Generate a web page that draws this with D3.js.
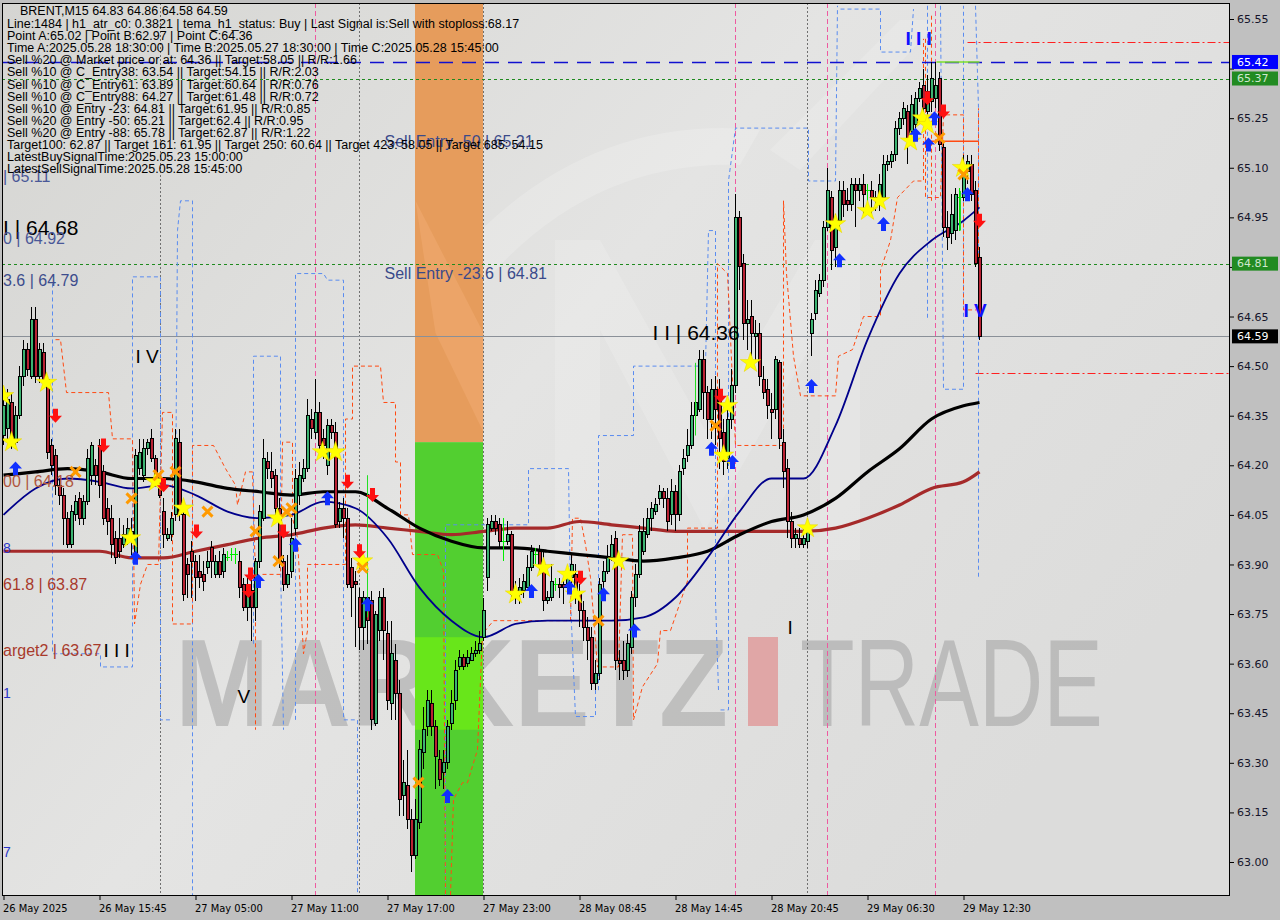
<!DOCTYPE html>
<html><head><meta charset="utf-8">
<script src="https://cdn.jsdelivr.net/npm/d3@7"></script>
<style>html,body{margin:0;padding:0;background:#c0c0c0;}svg{display:block;}</style>
</head><body><svg id="c" width="1280" height="920"></svg>
<script>
// ---------------- DATA ----------------
const headerLines = [
 "Line:1484 | h1_atr_c0: 0.3821 | tema_h1_status: Buy | Last Signal is:Sell with stoploss:68.17",
 "Point A:65.02 | Point B:62.97 | Point C:64.36",
 "Time A:2025.05.28 18:30:00 | Time B:2025.05.27 18:30:00 | Time C:2025.05.28 15:45:00",
 "Sell %20 @ Market price or at: 64.36 || Target:58.05 || R/R:1.66",
 "Sell %10 @ C_Entry38: 63.54 || Target:54.15 || R/R:2.03",
 "Sell %10 @ C_Entry61: 63.89 || Target:60.64 || R/R:0.76",
 "Sell %10 @ C_Entry88: 64.27 || Target:61.48 || R/R:0.72",
 "Sell %10 @ Entry -23: 64.81 || Target:61.95 || R/R:0.85",
 "Sell %20 @ Entry -50: 65.21 || Target:62.4 || R/R:0.95",
 "Sell %20 @ Entry -88: 65.78 || Target:62.87 || R/R:1.22",
 "Target100: 62.87 || Target 161: 61.95 || Target 250: 60.64 || Target 423: 58.05 || Target 685: 54.15",
 "LatestBuySignalTime:2025.05.23 15:00:00",
 "LatestSellSignalTime:2025.05.28 15:45:00"
];
const titleLine = "BRENT,M15  64.83 64.86 64.58 64.59";

const timeTickIdx = [0,24,48,72,96,120,144,168,192,216,240];
const timeTickLabels = ["26 May 2025","26 May 15:45","27 May 05:00","27 May 11:00","27 May 17:00","27 May 23:00","28 May 08:45","28 May 14:45","28 May 20:45","29 May 06:30","29 May 12:30"];
const priceTicks = [63.00,63.15,63.30,63.45,63.60,63.75,63.90,64.05,64.20,64.35,64.50,64.65,64.80,64.95,65.10,65.25,65.40,65.55];

// [open, high, low, close] per M15 bar
const ohlc = [
[64.29,64.42,64.26,64.38],[64.31,64.43,64.28,64.40],[64.39,64.42,64.25,64.27],[64.27,64.38,64.25,64.35],[64.35,64.50,64.34,64.47],
[64.47,64.58,64.44,64.55],[64.55,64.57,64.47,64.49],[64.47,64.68,64.46,64.64],[64.64,64.68,64.45,64.47],[64.47,64.57,64.45,64.55],
[64.54,64.57,64.44,64.46],[64.46,64.47,64.22,64.24],[64.26,64.28,64.17,64.20],[64.23,64.25,64.11,64.14],[64.14,64.16,64.08,64.11],
[64.11,64.13,63.96,64.04],[64.04,64.06,63.95,63.96],[63.96,64.08,63.95,64.06],[64.05,64.11,64.03,64.09],[64.10,64.12,64.02,64.04],
[64.04,64.11,64.02,64.09],[64.09,64.25,64.08,64.22],[64.17,64.27,64.14,64.26],[64.20,64.22,64.14,64.17],[64.26,64.28,64.10,64.14],
[64.18,64.20,64.02,64.04],[64.07,64.10,63.99,64.03],[64.04,64.08,63.92,63.96],[63.98,64.00,63.90,63.92],[63.98,64.04,63.92,63.94],
[63.96,64.02,63.95,63.99],[63.98,64.04,63.96,64.01],[63.97,64.04,63.93,64.00],[63.92,64.25,63.92,64.23],[64.19,64.28,64.17,64.24],
[64.17,64.28,64.15,64.25],[64.25,64.28,64.23,64.27],[64.28,64.31,64.21,64.22],[64.22,64.23,64.15,64.17],[64.15,64.17,64.10,64.11],
[64.06,64.10,63.95,63.99],[63.98,64.01,63.97,63.99],[63.99,64.06,63.97,64.04],[64.05,64.31,64.03,64.28],[64.27,64.31,64.03,64.05],
[64.05,64.07,63.79,63.81],[63.90,63.92,63.80,63.87],[63.94,63.97,63.80,63.91],[63.91,63.93,63.79,63.86],[63.88,63.93,63.83,63.86],
[63.87,63.91,63.82,63.85],[63.89,63.94,63.87,63.91],[63.95,63.97,63.86,63.91],[63.87,63.93,63.86,63.91],[63.91,63.94,63.86,63.87],
[63.88,63.95,63.86,63.93],[63.92,63.94,63.91,63.92],[63.93,63.95,63.91,63.93],[63.93,63.95,63.90,63.93],[63.91,63.94,63.80,63.83],
[63.84,63.86,63.76,63.77],[63.77,63.86,63.73,63.83],[63.82,63.87,63.67,63.77],[63.77,63.92,63.73,63.91],[63.91,64.08,63.89,64.06],
[64.04,64.28,64.03,64.22],[64.21,64.24,64.16,64.19],[64.18,64.24,64.13,64.16],[64.17,64.19,64.04,64.07],[64.07,64.10,63.89,63.91],
[63.91,63.93,63.82,63.84],[63.84,63.93,63.83,63.87],[63.88,64.04,63.86,63.98],[64.01,64.19,63.99,64.16],[64.11,64.21,64.08,64.17],
[64.16,64.22,64.15,64.19],[64.19,64.40,64.18,64.35],[64.34,64.37,64.28,64.31],[64.30,64.46,64.28,64.36],[64.36,64.39,64.25,64.26],
[64.28,64.31,64.22,64.26],[64.20,64.34,64.17,64.32],[64.32,64.34,64.28,64.30],[64.30,64.33,64.01,64.02],[64.03,64.09,64.01,64.07],
[64.07,64.10,63.98,64.04],[64.04,64.07,63.83,63.84],[63.89,63.92,63.74,63.83],[63.85,63.88,63.65,63.84],[63.80,63.83,63.64,63.71],
[63.71,63.82,63.64,63.80],[63.80,63.82,63.66,63.73],[63.79,63.82,63.40,63.43],[63.42,63.76,63.41,63.75],[63.70,63.82,63.67,63.80],
[63.80,63.83,63.61,63.70],[63.69,63.73,63.46,63.49],[63.48,63.73,63.43,63.63],[63.61,63.66,63.43,63.51],[63.51,63.55,63.14,63.19],
[63.20,63.31,63.14,63.24],[63.23,63.34,63.10,63.13],[63.13,63.16,62.97,63.02],[63.02,63.19,63.01,63.13],[63.12,63.37,63.10,63.34],
[63.33,63.47,63.28,63.40],[63.41,63.52,63.38,63.49],[63.48,63.52,63.38,63.41],[63.41,63.43,63.22,63.32],[63.31,63.34,63.23,63.25],
[63.27,63.34,63.22,63.30],[63.30,63.43,63.28,63.41],[63.42,63.52,63.40,63.48],[63.49,63.61,63.46,63.58],[63.59,63.64,63.58,63.62],
[63.62,63.63,63.58,63.59],[63.60,63.64,63.59,63.62],[63.61,63.65,63.61,63.63],[63.63,63.67,63.62,63.64],[63.64,63.70,63.63,63.66],
[63.68,63.80,63.67,63.76],[63.86,64.04,63.82,64.02],[64.01,64.05,64.00,64.03],[64.03,64.05,63.99,64.01],[64.02,64.04,63.95,63.97],
[63.97,64.04,63.91,63.97],[63.97,64.03,63.96,63.99],[63.99,64.00,63.79,63.81],[63.82,63.85,63.78,63.80],[63.81,63.86,63.78,63.83],
[63.82,63.87,63.80,63.85],[63.83,63.93,63.83,63.89],[63.89,63.96,63.88,63.94],[63.93,63.95,63.90,63.93],[63.94,63.96,63.87,63.89],
[63.90,63.94,63.76,63.79],[63.79,63.82,63.78,63.80],[63.80,63.90,63.79,63.85],[63.84,63.86,63.82,63.84],[63.84,63.86,63.80,63.83],
[63.84,63.86,63.78,63.83],[63.83,63.89,63.82,63.87],[63.86,63.93,63.84,63.90],[63.87,63.90,63.78,63.81],[63.81,63.84,63.71,63.76],
[63.76,63.79,63.67,63.71],[63.71,63.74,63.61,63.67],[63.68,63.71,63.52,63.54],[63.54,63.61,63.52,63.57],[63.57,63.86,63.55,63.84],
[63.85,63.91,63.82,63.88],[63.88,63.96,63.87,63.92],[63.92,63.99,63.91,63.96],[63.98,64.00,63.58,63.61],[63.61,63.64,63.55,63.60],
[63.61,63.67,63.55,63.58],[63.58,63.69,63.56,63.66],[63.65,63.82,63.63,63.80],[63.80,63.90,63.77,63.87],[63.87,64.02,63.86,64.00],
[63.94,64.04,63.93,64.00],[63.99,64.07,63.98,64.04],[64.04,64.09,64.00,64.07],[64.06,64.10,64.05,64.08],[64.10,64.14,64.08,64.12],
[64.12,64.13,64.07,64.10],[64.10,64.13,64.00,64.03],[64.05,64.16,64.02,64.12],[64.12,64.14,64.00,64.05],[64.05,64.20,64.03,64.18],
[64.19,64.25,64.17,64.22],[64.23,64.31,64.21,64.26],[64.26,64.39,64.25,64.35],[64.35,64.43,64.31,64.39],[64.37,64.55,64.36,64.52],
[64.52,64.55,64.34,64.42],[64.42,64.44,64.28,64.34],[64.34,64.46,64.28,64.43],[64.43,64.47,64.26,64.37],[64.40,64.46,64.19,64.28],
[64.30,64.34,64.17,64.21],[64.22,64.40,64.19,64.34],[64.34,64.49,64.31,64.44],[64.44,65.02,64.42,64.95],[64.95,64.97,64.73,64.80],
[64.81,64.84,64.58,64.63],[64.63,64.70,64.55,64.64],[64.65,64.70,64.53,64.60],[64.59,64.64,64.52,64.60],[64.60,64.63,64.44,64.47],
[64.46,64.50,64.40,64.42],[64.43,64.46,64.34,64.38],[64.37,64.42,64.28,64.36],[64.37,64.53,64.34,64.52],[64.51,64.52,64.25,64.28],
[64.27,64.31,64.13,64.18],[64.19,64.22,63.98,64.03],[64.03,64.06,63.95,63.98],[63.98,64.01,63.95,63.99],[63.98,64.01,63.95,63.96],
[63.96,64.02,63.95,63.98],[63.97,64.03,63.95,64.00],[64.60,64.66,64.53,64.64],[64.66,64.76,64.64,64.73],[64.72,64.78,64.71,64.76],
[64.76,64.94,64.74,64.92],[64.92,65.10,64.91,65.03],[65.01,65.03,64.79,64.85],[64.86,64.96,64.80,64.94],[64.94,65.06,64.91,65.03],
[65.03,65.06,64.95,64.99],[65.00,65.04,64.97,64.99],[64.99,65.07,64.97,65.05],[65.05,65.07,64.92,65.03],[65.03,65.07,65.00,65.05],
[65.05,65.08,64.96,65.02],[65.03,65.05,65.00,65.03],[65.03,65.06,64.96,65.01],[65.01,65.03,64.97,65.00],[65.00,65.08,64.97,65.05],
[65.01,65.14,65.00,65.11],[65.11,65.14,65.09,65.12],[65.12,65.15,65.10,65.14],[65.14,65.24,65.12,65.22],[65.22,65.27,65.20,65.25],
[65.25,65.30,65.23,65.28],[65.27,65.29,65.11,65.19],[65.21,65.32,65.19,65.29],[65.23,65.33,65.21,65.31],[65.31,65.36,65.30,65.34],
[65.35,65.40,65.23,65.28],[65.27,65.38,65.23,65.33],[65.30,65.42,65.27,65.37],[65.31,65.42,65.28,65.35],[65.37,65.39,65.15,65.17],
[65.16,65.18,64.89,64.92],[64.92,64.97,64.85,64.89],[64.90,65.02,64.87,64.96],[64.91,65.04,64.88,65.02],[65.01,65.04,64.91,65.01],
[65.01,65.14,65.00,65.10],[65.09,65.14,65.05,65.12],[65.11,65.14,65.00,65.02],[65.03,65.06,64.80,64.81],[64.83,64.86,64.58,64.59]
];

// moving averages sampled every 8 bars (+ last bar)
const maIdx = [0,8,16,24,32,40,48,56,64,72,80,88,96,104,112,120,128,136,144,152,160,168,176,184,192,200,208,216,224,232,240,244];
const maFast = [64.05,64.13,64.16,64.15,64.13,64.14,64.11,64.06,64.04,64.05,64.09,64.07,63.98,63.83,63.73,63.68,63.72,63.73,63.73,63.73,63.74,63.80,63.92,64.06,64.16,64.16,64.32,64.58,64.78,64.88,64.94,64.98];
const maSlow = [64.17,64.18,64.19,64.18,64.16,64.16,64.15,64.13,64.12,64.11,64.12,64.12,64.07,64.01,63.97,63.95,63.95,63.94,63.93,63.92,63.91,63.92,63.94,63.99,64.03,64.05,64.10,64.18,64.25,64.34,64.38,64.39];
const maLong = [63.94,63.94,63.94,63.94,63.92,63.92,63.94,63.96,63.98,63.99,64.01,64.02,64.01,64.00,63.99,64.00,64.01,64.01,64.03,64.02,64.01,64.00,64.00,64.00,64.00,64.00,64.01,64.04,64.08,64.13,64.15,64.18];

// step channels [barIndex, price]
const blueSteps = [
 [[12.25,64.75],[12.25,63.63],[24.25,63.63],[24.25,63.59],[32.25,63.59],[32.25,64.77],[39.25,64.77],[39.25,63.43],[42.25,63.43]],
 [[43,64.04],[43.5,64.91],[44.25,65.00],[47.25,65.00],[47.25,62.90]],
 [[62.5,63.66],[62.5,64.53],[69.25,64.53],[69.25,63.91],[70,63.40]],
 [[73,63.43],[73,64.78],[80,64.78],[81,64.76],[85,64.76],[85,63.43],[88.5,63.43],[88.5,62.90]],
 [[110.5,62.90],[110.5,64.02],[131.25,64.02],[131.25,64.19],[141.25,64.19],[141.75,63.79],[143,63.44],[148,63.44],[148,63.55]],
 [[148.75,63.52],[148.75,64.29],[157.5,64.29],[157.5,64.50],[175.5,64.50],[176.25,64.91],[178,64.91],[178,63.79],[178.75,63.52]],
 [[179.25,63.46],[181.25,63.46],[181.25,65.06],[183,65.22],[201.25,65.22],[201.25,65.06],[208,65.06],[208.5,65.59]],
 [[209.25,65.58],[219.25,65.58],[219.25,65.45],[226.75,65.45],[227.5,65.58]],
 [[231,65.59],[231,64.64]],
 [[234.25,65.59],[235,64.43],[240,64.43],[240,65.59]],
 [[243,65.59],[243.75,65.28],[243.75,63.86]]
];
const orangeSteps = [
 [[13,64.58],[14.25,64.58],[15.75,64.42],[26.25,64.42],[27.25,64.28],[32.25,64.28],[32.75,63.72],[34.25,63.84],[36,63.90],[38.75,63.90],[39.75,64.36],[42.25,64.36],[42.25,63.72],[47.25,63.72],[47.25,64.26],[52.5,64.26],[55.5,64.19],[58,64.14],[58.5,64.08],[60.5,64.18],[62.25,64.18],[63,63.86],[63,63.40]],
 [[64.75,63.87],[69.25,63.87],[69.75,64.27],[72.25,64.27],[72.25,64.04],[73.5,63.98],[75,63.63],[76,63.70],[76,63.90],[85.5,63.90],[85.5,64.34],[87.25,64.34],[87.25,64.50],[94.25,64.50],[95,64.39],[98,64.39],[98,64.21],[99.25,64.21],[99.25,64.05],[101.25,64.05],[102.25,63.93],[108.5,63.93],[110,63.88],[110.5,62.90]],
 [[111.75,62.90],[112.5,63.19],[114.75,63.24],[116,63.24],[118.5,63.34],[119.75,63.69],[122.5,63.73],[141.75,63.73],[142.25,64.04],[144.25,64.04],[145.5,63.96],[146.75,63.86],[148.5,63.59],[153.75,63.59],[154.75,63.99],[157.25,63.99],[157.5,63.43],[159.75,63.53],[163.5,63.60],[164.25,63.70],[166.75,63.70],[171,63.85],[171,64.01],[178.5,64.01],[178.5,64.81],[181,64.78],[183,64.26],[195,64.26],[195,65.00],[195.75,64.78],[197.5,64.53],[199.25,64.41],[208,64.41],[208.75,64.53],[212.25,64.55],[215,64.65],[219.25,64.65],[219.25,64.79],[221.75,64.88],[223.5,65.01],[227.5,65.06],[230,65.06],[230,65.49]],
 [[230.5,65.49],[230.5,65.01],[234.25,65.01],[235,65.26],[240,65.26],[240,64.67],[243.75,64.67],[243.75,65.28]],
 [[232,65.56],[232,65.00]]
];

// signal markers [barIndex, price]
const stars = [[0,64.41],[2,64.27],[10.75,64.45],[31.75,63.98],[38,64.15],[45,64.07],[68.5,64.04],[79.75,64.24],[83,64.24],[89.75,63.91],[128,63.81],[135,63.89],[141,63.87],[143,63.81],[153.75,63.91],[180,64.23],[181,64.38],[186.75,64.51],[201,64.01],[208,64.93],[216,64.97],[219,65.00],[226.75,65.18],[229.75,65.25],[231,65.23],[239.75,65.10]];
const crosses = [[18,64.18],[32,64.10],[38.75,64.17],[43,64.18],[51,64.06],[63,64.00],[68.75,63.91],[70.75,64.06],[72,64.07],[89.75,63.89],[103.75,63.24],[148.75,63.73],[178,64.32],[234,65.19],[240,65.08]];
const sellArrows = [[13,64.35],[25,64.26],[40,64.14],[48.25,64.00],[61.75,63.87],[61.25,63.82],[70,64.00],[86,64.15],[92.25,64.11],[89,63.94],[144.25,63.86],[179.25,64.41],[231,65.31],[235,65.27],[244,64.94]];
const buyArrows = [[3,64.19],[33,63.92],[63.75,63.85],[73,63.96],[81,64.10],[91,63.78],[111,63.20],[132,63.82],[141.5,63.83],[150,63.81],[157.75,63.70],[177,64.25],[182.25,64.21],[202,64.44],[209,64.82],[220,64.93],[228,65.20],[231.25,65.17],[232.75,65.25],[241,65.02]];
const signalLines = [[91,64.17,63.74],[173,64.51,64.29],[239.25,65.03,64.91]];

// zone
const zoneFrom = 103, zoneTo = 120, zoneSplit = 64.27;

// levels
const levelBlue = 65.42, levelGreen1 = 65.37, levelGreen2 = 64.81, levelLast = 64.59;
const redLevelsRight = [[241,65.48],[243,64.48]];
const priceBoxes = [65.42,65.37,64.81,64.59];
const pinkVLines = [78,183,206,233];
const grayVLines = [39.25,89,120,201];

// chart labels [barIndex, price, text]
const fibLabels = [
 [0,64.92,"I | 64.68","#000000",21],
 [0,64.885,"0 | 64.92","#4a5898",16],
 [0,64.76,"3.6 | 64.79","#3d4d8d",16],
 [0,65.075,"| 65.11","#4a5898",16],
 [0,64.15,"00 | 64.18","#b0563e",16],
 [0,63.95,"8","#2a36c8",14],
 [0,63.84,"61.8 | 63.87","#a83a2c",16],
 [0,63.64,"arget2 | 63.67","#a83a2c",16],
 [0,63.51,"1","#2a36c8",14],
 [0,63.03,"7","#2a36c8",14],
 [95.25,65.18,"Sell Entry -50 | 65.21","#3a4a8a",16],
 [95.25,64.78,"Sell Entry -23.6 | 64.81","#3a4a8a",16],
 [162.25,64.60,"I I | 64.36","#000000",21]
];
const waveLabels = [
 [25,63.64,"I I I","#000000"],
 [33,64.53,"I V","#000000"],
 [58.5,63.50,"V","#000000"],
 [196,63.71,"I","#000000"],
 [225.5,65.49,"I I I","#1010ff"],
 [240,64.67,"I V","#1010ff"]
];

// ---------------- DRAW ----------------
const W=1280,H=920,L=2,T=3,R=1230,B=896;
const svg = d3.select("#c");
const SANS = '"Liberation Sans", Arial, sans-serif';
const x = d3.scaleLinear().domain([0,244]).range([3.5,979.5]);
const y = d3.scaleLinear().domain([63.00,65.55]).range([862,19]);

const defs = svg.append("defs");
defs.append("clipPath").attr("id","clip").append("rect").attr("x",L).attr("y",T).attr("width",R-L).attr("height",B-T);
const bg = defs.append("linearGradient").attr("id","bg").attr("x1","0").attr("y1","0").attr("x2","1").attr("y2","0.6");
bg.append("stop").attr("offset","0").attr("stop-color","#d5d5d2");
bg.append("stop").attr("offset","0.5").attr("stop-color","#e4e4e3");
bg.append("stop").attr("offset","1").attr("stop-color","#dcdcdb");

svg.append("rect").attr("width",W).attr("height",H).attr("fill","#c0c0c0");
svg.append("rect").attr("x",L).attr("y",T).attr("width",R-L).attr("height",B-T).attr("fill","url(#bg)");

const g = svg.append("g").attr("clip-path","url(#clip)");

// faint logo shapes in the background
g.append("path").attr("d","M555,240 L600,240 L705,430 L815,240 L860,240 L860,560 L820,560 L820,330 L705,530 L600,330 L600,560 L555,560 Z")
 .attr("fill","#ffffff").attr("opacity",0.16);
g.append("path").attr("d","M420,300 Q560,110 760,130 L740,165 Q580,160 470,300 Z").attr("fill","#ffffff").attr("opacity",0.18);
g.append("path").attr("d","M770,150 L900,20 L940,20 L800,170 Z").attr("fill","#ffffff").attr("opacity",0.15);

// watermark
g.append("text").attr("x",175).attr("y",726).attr("font-family",SANS).attr("font-weight","bold").attr("font-size",124)
 .attr("textLength",553).attr("lengthAdjust","spacingAndGlyphs").attr("fill","#b4b4b4").attr("opacity",0.75).text("MARKETZ");
g.append("rect").attr("x",748).attr("y",637).attr("width",30).attr("height",89).attr("fill","#e0a6a6");
g.append("text").attr("x",800).attr("y",726).attr("font-family",SANS).attr("font-size",124)
 .attr("textLength",303).attr("lengthAdjust","spacingAndGlyphs").attr("fill","#b4b4b4").attr("opacity",0.8).text("TRADE");

// zone
g.append("rect").attr("x",x(zoneFrom)-0.5).attr("y",T).attr("width",x(zoneTo)-x(zoneFrom)).attr("height",y(zoneSplit)-T).attr("fill","#e69c5c");
g.append("rect").attr("x",x(zoneFrom)-0.5).attr("y",y(zoneSplit)).attr("width",x(zoneTo)-x(zoneFrom)).attr("height",B-y(zoneSplit)).attr("fill","#52cf30");
g.append("rect").attr("x",x(zoneFrom)-0.5).attr("y",y(63.68)).attr("width",x(zoneTo)-x(zoneFrom)).attr("height",y(63.40)-y(63.68)).attr("fill","#6ae818").attr("opacity",0.9);
g.append("path").attr("d",`M${x(zoneFrom)},${y(65.0)} L${x(zoneTo)},${y(64.6)} L${x(zoneTo)},${y(64.3)} L${x(zoneFrom)+20},${y(64.6)} Z`).attr("fill","#f0aa70").attr("opacity",0.6);

// vertical separators
g.selectAll("line.vg").data(grayVLines).join("line").attr("x1",d=>x(d)).attr("x2",d=>x(d)).attr("y1",T).attr("y2",B)
 .attr("stroke","#707070").attr("stroke-width",1).attr("stroke-dasharray","2,2");
g.selectAll("line.vp").data(pinkVLines).join("line").attr("x1",d=>x(d)).attr("x2",d=>x(d)).attr("y1",T).attr("y2",B)
 .attr("stroke","#ee5aa0").attr("stroke-width",1).attr("stroke-dasharray","5,3");

// horizontal levels
const hline = (p,color,dash,w)=>g.append("line").attr("x1",L).attr("x2",R).attr("y1",Math.round(y(p))+0.5).attr("y2",Math.round(y(p))+0.5)
 .attr("stroke",color).attr("stroke-width",w||1).attr("stroke-dasharray",dash);
hline(levelGreen1,"#1f8a1f","3,3");
hline(levelGreen2,"#1f8a1f","3,3");
hline(levelLast,"#8a9098",null);
redLevelsRight.forEach(d=>{
  g.append("line").attr("x1",x(d[0])).attr("x2",R).attr("y1",Math.round(y(d[1]))+0.5).attr("y2",Math.round(y(d[1]))+0.5)
   .attr("stroke","#ff2020").attr("stroke-dasharray","8,3,2,3");
});

// step channels
const line = d3.line().x(d=>x(d[0])).y(d=>y(d[1]));
g.selectAll("path.bs").data(blueSteps).join("path").attr("d",line).attr("fill","none")
 .attr("stroke","#5a8cf0").attr("stroke-width",1).attr("stroke-dasharray","4,3");
g.selectAll("path.os").data(orangeSteps).join("path").attr("d",line).attr("fill","none")
 .attr("stroke","#ff4a12").attr("stroke-width",1).attr("stroke-dasharray","4,3");

// blue dashed level (drawn over channels)
hline(levelBlue,"#1010d0","14,9",1.3);
g.append("line").attr("x1",x(233.25)).attr("x2",x(244)).attr("y1",y(65.42)).attr("y2",y(65.42)).attr("stroke","#7ee02a").attr("stroke-width",1.5);
g.append("line").attr("x1",x(230.5)).attr("x2",x(243.75)).attr("y1",y(65.18)).attr("y2",y(65.18)).attr("stroke","#ff4a12").attr("stroke-width",1.5);

// moving averages
const maLine = arr => d3.line().curve(d3.curveMonotoneX).x((d,i)=>x(maIdx[i])).y(d=>y(d))(arr);
g.append("path").attr("d",maLine(maLong)).attr("fill","none").attr("stroke","#a52a2a").attr("stroke-width",3.2);
g.append("path").attr("d",maLine(maSlow)).attr("fill","none").attr("stroke","#000000").attr("stroke-width",3.2);
g.append("path").attr("d",maLine(maFast)).attr("fill","none").attr("stroke","#00008b").attr("stroke-width",1.8);

// candles
const bars = ohlc.map((d,i)=>({i,o:d[0],h:d[1],l:d[2],c:d[3]}));
const cg = g.append("g").attr("shape-rendering","crispEdges");
cg.selectAll("line.w").data(bars).join("line").attr("x1",d=>x(d.i)).attr("x2",d=>x(d.i))
 .attr("y1",d=>y(d.h)).attr("y2",d=>y(d.l)).attr("stroke",d=>d.o===d.c?"#00ee00":"#000").attr("stroke-width",1);
cg.selectAll("rect.b").data(bars.filter(d=>d.o!==d.c)).join("rect")
 .attr("x",d=>x(d.i)-1.5).attr("width",3)
 .attr("y",d=>y(Math.max(d.o,d.c))).attr("height",d=>Math.max(1,Math.abs(y(d.o)-y(d.c))))
 .attr("fill",d=>d.c>d.o?"#3cb371":"#b82233").attr("stroke","#000").attr("stroke-width",1);
cg.selectAll("line.dj").data(bars.filter(d=>d.o===d.c)).join("line")
 .attr("x1",d=>x(d.i)-2).attr("x2",d=>x(d.i)+2).attr("y1",d=>y(d.o)).attr("y2",d=>y(d.o)).attr("stroke","#00ee00");

// signal lines
g.selectAll("line.sl").data(signalLines).join("line").attr("x1",d=>x(d[0])).attr("x2",d=>x(d[0]))
 .attr("y1",d=>y(d[1])).attr("y2",d=>y(d[2])).attr("stroke","#22e022").attr("stroke-width",1);

// markers
g.selectAll("path.star").data(stars).join("path").attr("d",d3.symbol(d3.symbolStar,130))
 .attr("transform",d=>`translate(${x(d[0])},${y(d[1])})`).attr("fill","#ffff00").attr("stroke","#e6d200").attr("stroke-width",0.5);
g.selectAll("path.cr").data(crosses).join("path").attr("d","M-5,-5L5,5M5,-5L-5,5")
 .attr("transform",d=>`translate(${x(d[0])},${y(d[1])})`).attr("stroke","#ff9a00").attr("stroke-width",3).attr("fill","none");
g.selectAll("path.sa").data(sellArrows).join("path").attr("d","M-2.5,-7L2.5,-7L2.5,0L6.5,0L0,7L-6.5,0L-2.5,0Z")
 .attr("transform",d=>`translate(${x(d[0])},${y(d[1])})`).attr("fill","#ff1010");
g.selectAll("path.ba").data(buyArrows).join("path").attr("d","M-2.5,7L2.5,7L2.5,0L6.5,0L0,-7L-6.5,0L-2.5,0Z")
 .attr("transform",d=>`translate(${x(d[0])},${y(d[1])})`).attr("fill","#1030ff");

// chart labels
g.selectAll("text.fib").data(fibLabels).join("text").attr("x",d=>d[0]===0?3:x(d[0])).attr("y",d=>y(d[1]))
 .attr("dy","0.35em").attr("font-family",SANS).attr("font-size",d=>d[4]).attr("fill",d=>d[3]).text(d=>d[2]);
g.selectAll("text.wave").data(waveLabels).join("text").attr("x",d=>x(d[0])).attr("y",d=>y(d[1]))
 .attr("dy","0.35em").attr("font-family",SANS).attr("font-size",19).attr("font-weight",d=>d[3]==="#000000"?"normal":"bold").attr("fill",d=>d[3]).text(d=>d[2]);

// info block
g.append("text").attr("x",20).attr("y",15).attr("font-family",SANS).attr("font-size",12.5).attr("fill","#000").text(titleLine);
g.selectAll("text.info").data(headerLines).join("text").attr("x",7).attr("y",(d,i)=>28+i*12.1)
 .attr("font-family",SANS).attr("font-size",12.5).attr("fill","#000").text(d=>d);

// frame
svg.append("rect").attr("x",L+0.5).attr("y",T+0.5).attr("width",R-L-1).attr("height",B-T-1).attr("fill","none").attr("stroke","#000");

// right axis (labels hidden behind price boxes are left out, as in the reference)
const visibleTicks = priceTicks.filter(t=>!priceBoxes.some(b=>Math.abs(y(b)-y(t))<11));
const ya = svg.append("g").attr("transform",`translate(${R},0)`)
 .call(d3.axisRight(y).tickValues(priceTicks).tickFormat(d=>visibleTicks.includes(d)?d3.format(".2f")(d):"").tickSize(4).tickPadding(3));
ya.select(".domain").remove();
ya.selectAll("line").attr("stroke","#000");
ya.selectAll("text").attr("font-family",'"DejaVu Sans", sans-serif').attr("font-size",11).attr("fill","#14142a");

// price boxes
const boxFill = ["#0000ff","#228b22","#228b22","#000000"];
const boxText = ["#ffffff","#cfe8cf","#cfe8cf","#ffffff"];
const pb = svg.selectAll("g.pb").data(priceBoxes).join("g").attr("transform",d=>`translate(${R+2},${y(d)})`);
pb.append("rect").attr("x",0).attr("y",-7).attr("width",46).attr("height",14).attr("fill",(d,i)=>boxFill[i]);
pb.append("text").attr("x",5).attr("dy","0.35em").attr("font-family",'"DejaVu Sans", sans-serif').attr("font-size",11)
 .attr("fill",(d,i)=>boxText[i]).text(d=>d.toFixed(2));

// bottom axis
const xa = svg.append("g").attr("transform",`translate(0,${B})`)
 .call(d3.axisBottom(x).tickValues(timeTickIdx).tickFormat((d,i)=>timeTickLabels[i]).tickSize(4).tickPadding(4));
xa.select(".domain").remove();
xa.selectAll("line").attr("stroke","#000");
xa.selectAll("text").attr("text-anchor","start").attr("dx","-1").attr("font-family",'"DejaVu Sans Condensed","DejaVu Sans", sans-serif')
 .attr("font-size",11).attr("fill","#000");
</script></body></html>
